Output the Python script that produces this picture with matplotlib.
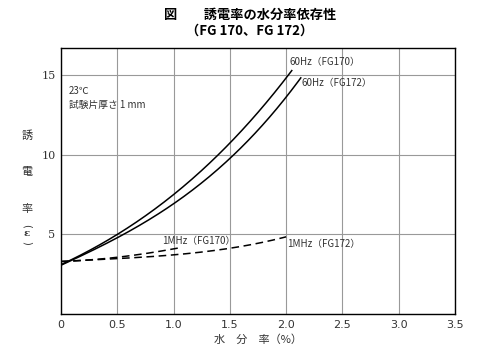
import matplotlib
matplotlib.use("Agg")
import matplotlib.pyplot as plt
import numpy as np

plt.rcParams['font.family'] = ['Noto Sans CJK JP', 'DejaVu Sans']

# Data
x_60_170 = [0.0, 0.25, 0.5, 0.75, 1.0, 1.25, 1.5, 1.75, 2.05]
y_60_170 = [3.05, 4.0, 5.1, 6.2, 7.35, 8.9, 10.8, 12.8, 15.2]
x_60_172 = [0.0, 0.25, 0.5, 0.75, 1.0, 1.25, 1.5, 1.75, 2.13]
y_60_172 = [3.05, 3.9, 4.8, 5.8, 6.9, 8.2, 9.75, 11.6, 14.8]
x_1m_170 = [0.0, 0.25, 0.5, 0.75, 1.05]
y_1m_170 = [3.3, 3.4, 3.55, 3.8, 4.15]
x_1m_172 = [0.0, 0.5, 1.0, 1.5, 2.0]
y_1m_172 = [3.3, 3.45, 3.75, 4.1, 4.85]

xticks = [0, 0.5, 1.0, 1.5, 2.0, 2.5, 3.0, 3.5]
xticklabels = ['0', '0.5', '1.0', '1.5', '2.0', '2.5', '3.0', '3.5']
yticks = [0, 5, 10, 15]
yticklabels = ['', '5', '10', '15']

def smooth(xs, ys, n=200):
    xs = np.asarray(xs); ys = np.asarray(ys)
    c = np.polyfit(xs, ys, min(3, len(xs) - 1))
    xx = np.linspace(xs[0], xs[-1], n)
    return xx, np.polyval(c, xx)

fig = plt.figure(figsize=(5, 3.55), dpi=100)
ax = fig.add_axes([0.122, 0.1155, 0.788, 0.7495])

ax.plot(*smooth(x_60_170, y_60_170), color='black', lw=1.1)
ax.plot(*smooth(x_60_172, y_60_172), color='black', lw=1.1)
ax.plot(*smooth(x_1m_170, y_1m_170), color='black', lw=1.1, ls=(0, (5, 3)))
ax.plot(*smooth(x_1m_172, y_1m_172), color='black', lw=1.1, ls=(0, (5, 3)))

ax.set_xlim(0, 3.5)
ax.set_ylim(0, 16.7)
ax.set_xticks(xticks)
ax.set_xticklabels(xticklabels, fontsize=8, color='#333333', family=['DejaVu Sans'])
ax.set_yticks(yticks)
ax.set_yticklabels(yticklabels, fontsize=8, color='#333333', family=['DejaVu Serif'])
ax.tick_params(length=0, pad=4)
ax.grid(True, color='#999999', lw=0.8)
for s in ax.spines.values():
    s.set_color('black')
    s.set_linewidth(1.0)

ax.text(2.03, 15.8, '60Hz（FG170）', fontsize=7, color='#333333', ha='left', va='center')
ax.text(2.14, 14.5, '60Hz（FG172）', fontsize=7, color='#333333', ha='left', va='center')
ax.text(0.9, 4.55, '1MHz（FG170）', fontsize=7, color='#333333', ha='left', va='center')
ax.text(2.01, 4.4, '1MHz（FG172）', fontsize=7, color='#333333', ha='left', va='center')
ax.text(0.07, 14.0, '23℃', fontsize=7, color='#333333', ha='left', va='center')
ax.text(0.07, 13.1, '試験片厚さ 1 mm', fontsize=7, color='#333333', ha='left', va='center')

fig.text(0.5, 1 - 15 / 355, '図　　誘電率の水分率依存性', fontsize=9.5, fontweight='bold',
         ha='center', va='center')
fig.text(0.5, 1 - 31 / 355, '（FG 170、FG 172）', fontsize=9.5, fontweight='bold',
         ha='center', va='center')

for ch, yy in [('誘', 136), ('電', 172), ('率', 209)]:
    fig.text(27 / 500, 1 - yy / 355, ch, fontsize=8, color='#333333', ha='center', va='center')
fig.text(27 / 500, 1 - 226 / 355, '(', rotation=270, fontsize=7, color='#333333',
         ha='center', va='center', family=['DejaVu Sans'])
fig.text(27 / 500, 1 - 234 / 355, 'ε', fontsize=7.5, color='#333333', fontweight='bold',
         ha='center', va='center', family=['DejaVu Serif'])
fig.text(27 / 500, 1 - 243 / 355, ')', rotation=270, fontsize=7, color='#333333',
         ha='center', va='center', family=['DejaVu Sans'])

fig.text(258 / 500, 1 - 340 / 355, '水　分　率（%）', fontsize=8, color='#333333', ha='center', va='center')

fig.savefig('out.png', dpi=100)
